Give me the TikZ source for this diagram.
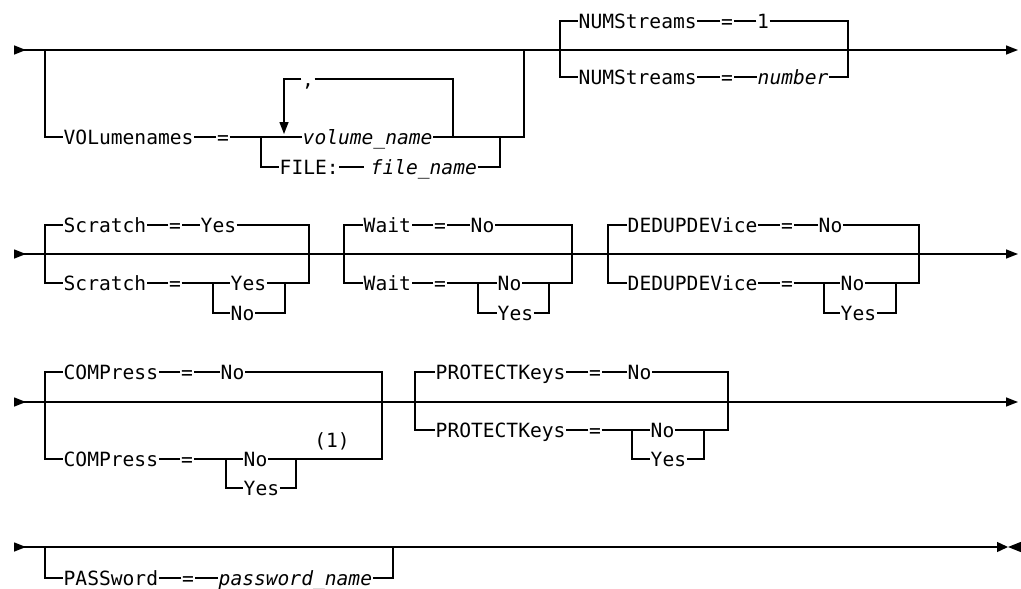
\documentclass[tikz,border=0pt]{standalone}
\usepackage{fontspec}
\setmonofont{DejaVu Sans Mono}
\usetikzlibrary{arrows.meta}
\tikzset{
	kw/.style={font=\ttfamily\fontsize{19.6}{24}\selectfont, inner xsep=0pt, inner ysep=0pt,
		text height=14.3pt, text depth=0pt, anchor=west},
	var/.style={kw, font=\ttfamily\itshape\fontsize{19.6}{24}\selectfont},
	sym/.style={kw, anchor=center},
}
\begin{document}
\begin{tikzpicture}[x=1pt, y=-1pt, line width=1.4pt, >={Triangle[length=12pt,width=9pt]}]
	\useasboundingbox (0,0) rectangle (1021,589);
	% ligne 1
	\draw[>->] (14,50) -- (1018,50);
	\coordinate (v0) at (45,50);   \coordinate (v9) at (524,50);
	\coordinate (v1) at (261,137); \coordinate (v2) at (500,137);
	\coordinate (l0) at (284,134); \coordinate (l1) at (453,137);
	\node (V1) at (63,137)  [kw] {VOLumenames};
	\node (V2) at (223,137) [sym] {=} edge (V1);
	\node (V3) at (302,137) [var] {volume\_name};
	\node (V4) at (308,79)  [sym] {,};
	\node (V5) at (279,167) [kw] {FILE:};
	\node (V6) at (370,167) [var] {file\_name};
	\draw (v0) |- (V1);
	\draw (V2) -- (v1) -- (V3);
	\draw (V3) -| (v9);
	\draw[->] (V4) -| (l0);
	\draw (V4) -| (l1);
	\draw (v1) |- (V5);
	\draw (V5) -- ([xshift=-6pt]V6.west);
	\draw (V6) -| (v2);
	\coordinate (n0) at (560,50);  \coordinate (n9) at (848,50);
	\node (N1) at (578,21) [kw] {NUMStreams};
	\node (N2) at (727,21) [sym] {=} edge (N1);
	\node (N3) at (763,21) [sym] {1} edge (N2);
	\node (N4) at (578,77) [kw] {NUMStreams};
	\node (N5) at (727,77) [sym] {=} edge (N4);
	\node (N6) at (757,77) [var] {number} edge (N5);
	\draw (n0) |- (N1);  \draw (N3) -| (n9);
	\draw (n0) |- (N4);  \draw (N6) -| (n9);
	% ligne 2
	\draw[>->] (14,254) -- (1018,254);
	\coordinate (s0) at (45,254);  \coordinate (s9) at (309,254);
	\coordinate (s1) at (213,283); \coordinate (s2) at (285,283);
	\node (S1) at (63,225)  [kw] {Scratch};
	\node (S2) at (175,225) [sym] {=} edge (S1);
	\node (S3) at (200,225) [kw] {Yes} edge (S2);
	\node (S4) at (63,283)  [kw] {Scratch};
	\node (S5) at (175,283) [sym] {=} edge (S4);
	\node (S6) at (230,283) [kw] {Yes};
	\node (S7) at (230,313) [kw] {No};
	\draw (s0) |- (S1);  \draw (S3) -| (s9);
	\draw (s0) |- (S4);  \draw (S5) -- (s1) -- (S6);
	\draw (s1) |- (S7);  \draw (S7) -| (s2);
	\draw (S6) -| (s9);
	\coordinate (w0) at (344,254); \coordinate (w9) at (572,254);
	\coordinate (w1) at (478,283); \coordinate (w2) at (549,283);
	\node (W1) at (363,225) [kw] {Wait};
	\node (W2) at (440,225) [sym] {=} edge (W1);
	\node (W3) at (470,225) [kw] {No} edge (W2);
	\node (W4) at (363,283) [kw] {Wait};
	\node (W5) at (440,283) [sym] {=} edge (W4);
	\node (W6) at (497,283) [kw] {No};
	\node (W7) at (497,313) [kw] {Yes};
	\draw (w0) |- (W1);  \draw (W3) -| (w9);
	\draw (w0) |- (W4);  \draw (W5) -- (w1) -- (W6);
	\draw (w1) |- (W7);  \draw (W7) -| (w2);
	\draw (W6) -| (w9);
	\coordinate (d0) at (608,254); \coordinate (d9) at (919,254);
	\coordinate (d1) at (824,283); \coordinate (d2) at (896,283);
	\node (D1) at (627,225) [kw] {DEDUPDEVice};
	\node (D2) at (787,225) [sym] {=} edge (D1);
	\node (D3) at (818,225) [kw] {No} edge (D2);
	\node (D4) at (627,283) [kw] {DEDUPDEVice};
	\node (D5) at (787,283) [sym] {=} edge (D4);
	\node (D6) at (840,283) [kw] {No};
	\node (D7) at (840,313) [kw] {Yes};
	\draw (d0) |- (D1);  \draw (D3) -| (d9);
	\draw (d0) |- (D4);  \draw (D5) -- (d1) -- (D6);
	\draw (d1) |- (D7);  \draw (D7) -| (d2);
	\draw (D6) -| (d9);
	% ligne 3
	\draw[>->] (14,402) -- (1018,402);
	\coordinate (c0) at (45,402);  \coordinate (c9) at (382,402);
	\coordinate (c1) at (226,459); \coordinate (c2) at (296,459);
	\node (C1) at (63,372)  [kw] {COMPress};
	\node (C2) at (187,372) [sym] {=} edge (C1);
	\node (C3) at (220,372) [kw] {No} edge (C2);
	\node (C4) at (63,459)  [kw] {COMPress};
	\node (C5) at (187,459) [sym] {=} edge (C4);
	\node (C6) at (243,459) [kw] {No};
	\node (C7) at (243,488) [kw] {Yes};
	\node (C8) at (332,440) [sym] {(1)};
	\draw (c0) |- (C1);  \draw (C3) -| (c9);
	\draw (c0) |- (C4);  \draw (C5) -- (c1) -- (C6);
	\draw (c1) |- (C7);  \draw (C7) -| (c2);
	\draw (C6) -| (c9);
	\coordinate (p0) at (415,402); \coordinate (p9) at (728,402);
	\coordinate (p1) at (632,430); \coordinate (p2) at (704,430);
	\node (P1) at (435,372) [kw] {PROTECTKeys};
	\node (P2) at (595,372) [sym] {=} edge (P1);
	\node (P3) at (627,372) [kw] {No} edge (P2);
	\node (P4) at (435,430) [kw] {PROTECTKeys};
	\node (P5) at (595,430) [sym] {=} edge (P4);
	\node (P6) at (650,430) [kw] {No};
	\node (P7) at (650,459) [kw] {Yes};
	\draw (p0) |- (P1);  \draw (P3) -| (p9);
	\draw (p0) |- (P4);  \draw (P5) -- (p1) -- (P6);
	\draw (p1) |- (P7);  \draw (P7) -| (p2);
	\draw (P6) -| (p9);
	% ligne 4
	\draw[>-{Triangle[length=11pt,width=10pt]}] (14,547) -- (1008,547);
	\draw[-{Triangle[length=13pt,width=10pt]}] (1021,547) -- (1008,547);
	\coordinate (a0) at (45,547);  \coordinate (a9) at (393,547);
	\node (A1) at (63,578)  [kw] {PASSword};
	\node (A2) at (188,578) [sym] {=} edge (A1);
	\node (A3) at (218,578) [var] {password\_name} edge (A2);
	\draw (a0) |- (A1);  \draw (A3) -| (a9);
\end{tikzpicture}
\end{document}
